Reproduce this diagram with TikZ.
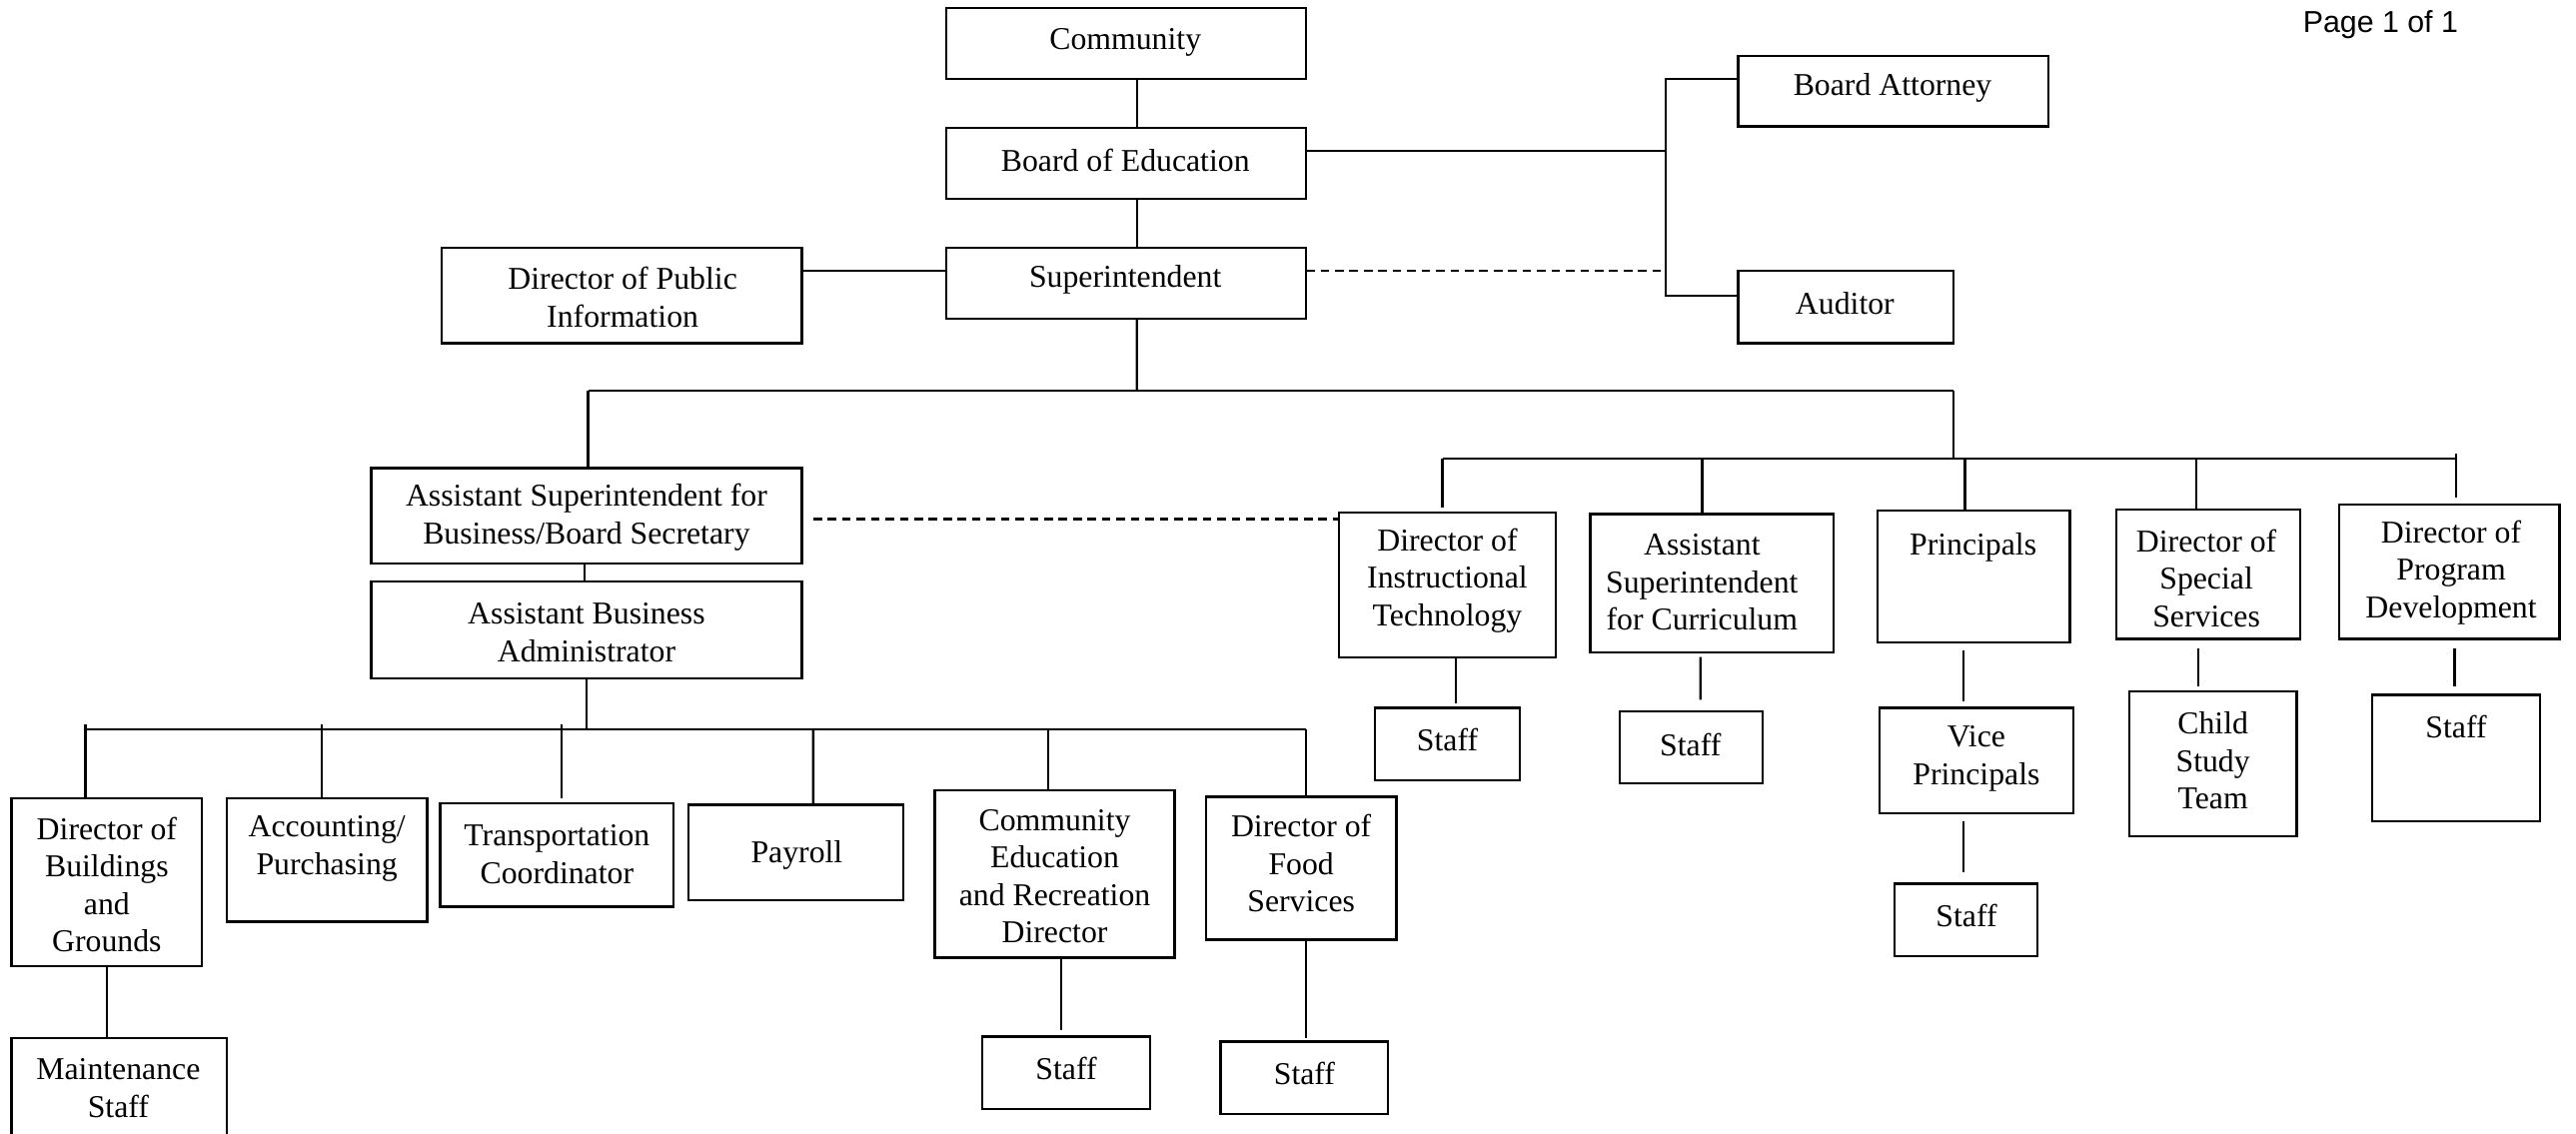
\documentclass[tikz,border=0pt]{standalone}
\usepackage{fontspec}
\setmainfont{Liberation Serif}
\newfontfamily\pagefont{Liberation Sans}
\usetikzlibrary{calc}
\tikzset{
  boxst/.style={draw, line width=0.8pt, inner sep=0pt, outer sep=0pt},
  txt/.style={align=center, inner sep=0pt, font=\fontsize{11}{13}\selectfont},
  ln/.style={line width=0.8pt},
  dln/.style={line width=0.8pt, dash pattern=on 3pt off 2pt}
}
% name, x1, y1, x2, y2, tx, ty, text
\newcommand\bx[8]{%
  \node[boxst, minimum width={(#4-#2)*0.02cm}, minimum height={(#5-#3)*0.02cm}] (#1) at ({(#2+#4)/2},{(#3+#5)/2}) {};
  \node[txt] (#1-t) at (#6,{#7+1.5}) {#8};}
\begin{document}
\begin{tikzpicture}[x=0.02cm,y=-0.02cm]
\useasboundingbox (0,0) rectangle (1568,690);
\node[inner sep=0pt, font=\pagefont\fontsize{10.5}{12}\selectfont] (page) at (1449,15) {Page 1 of 1};
% top
\bx{comm}{576}{5}{795}{48}{685}{24}{Community}
\bx{boe}{576}{78}{795}{121}{685}{96}{Board of Education}
\bx{supt}{576}{151}{795}{194}{685}{169}{Superintendent}
\bx{dpi}{269}{151}{488}{209}{379}{179.5}{Director of Public\\Information}
\bx{att}{1058}{34}{1247}{77}{1152}{52}{Board Attorney}
\bx{aud}{1058}{165}{1189}{209}{1123}{183}{Auditor}
% business side
\bx{asb}{226}{285}{488}{343}{357}{313.5}{Assistant Superintendent for\\Business/Board Secretary}
\bx{aba}{226}{354}{488}{413}{357}{383.5}{Assistant Business\\Administrator}
% right group
\bx{dit}{815}{312}{947}{400}{881}{352}{Director of\\Instructional\\Technology}
\bx{dits}{837}{431}{925}{475}{881}{449}{Staff}
\bx{asc}{968}{313}{1116}{397}{1036}{353}{Assistant\\Superintendent\\for Curriculum}
\bx{ascs}{986}{433}{1073}{477}{1029}{452}{Staff}
\bx{prin}{1143}{311}{1260}{391}{1201}{332}{Principals}
\bx{vp}{1144}{431}{1262}{495}{1203}{460.5}{Vice\\Principals}
\bx{vps}{1153}{538}{1240}{582}{1197}{556}{Staff}
\bx{dss}{1288}{310}{1400}{389}{1343}{350.5}{Director of\\Special\\Services}
\bx{cst}{1296}{421}{1398}{509}{1347}{461.5}{Child\\Study\\Team}
\bx{dpd}{1424}{307}{1558}{389}{1492}{347}{Director of\\Program\\Development}
\bx{dpds}{1444}{423}{1546}{500}{1495}{441}{Staff}
% left group
\bx{dbg}{7}{486}{123}{588}{65}{537}{Director of\\Buildings\\and\\Grounds}
\bx{mnt}{7}{632}{138}{720}{72}{661}{Maintenance\\Staff}
\bx{acc}{138}{486}{260}{561}{199}{515}{Accounting/\\Purchasing}
\bx{trn}{268}{489}{410}{552}{339}{518.5}{Transportation\\Coordinator}
\bx{pay}{419}{490}{550}{548}{485}{519}{Payroll}
\bx{cer}{569}{481}{715}{583}{642}{532}{Community\\Education\\and Recreation\\Director}
\bx{cers}{598}{631}{700}{675}{649}{649}{Staff}
\bx{fds}{734}{485}{850}{572}{792}{524}{Director of\\Food\\Services}
\bx{fdss}{743}{634}{845}{678}{794}{652}{Staff}
% named coordinates
\coordinate (brt) at (1014,48);
\coordinate (brm) at (1014,92);
\coordinate (brd) at (1014,165);
\coordinate (brb) at (1014,180);
\coordinate (b1c) at (692,238);
\coordinate (b1l) at (358,238);
\coordinate (b1r) at (1189,238);
\coordinate (b2m) at (1189,279);
\coordinate (b2l) at (878,279);
\coordinate (b2r) at (1495,279);
\coordinate (b3c) at (357,444);
\coordinate (b3l) at (52,444);
\coordinate (b3r) at (795,444);
% top connectors
\draw[ln] ($(comm.south)+(6.5,0)$) -- ($(boe.north)+(6.5,0)$);
\draw[ln] ($(boe.south)+(6.5,0)$) -- ($(supt.north)+(6.5,0)$);
\draw[ln] ($(dpi.east)+(0,-15)$) -- ($(supt.west)+(0,-7.5)$);
\draw[ln] ($(boe.east)+(0,-7.5)$) -- (brm);
\draw[ln] ($(att.west)+(0,-7.5)$) -- (brt) -- (brb) -- ($(aud.west)+(0,-7)$);
\draw[dln] ($(supt.east)+(0,-7.5)$) -- (brd);
% superintendent bus
\draw[ln] ($(supt.south)+(6.5,0)$) -- (b1c);
\draw[ln] (b1l) -- (b1r);
\draw[ln] (b1l) -- ($(asb.north)+(1,0)$);
\draw[ln] (b1r) -- (b2m);
% right bus
\draw[ln] (b2l) -- (b2r);
\draw[ln] (b2r) -- ++(0,-3);
\draw[ln] (b2l) -- ($(dit.north)+(-3,-3)$);
\draw[ln] ($(b2l)+(158,0)$) -- ($(asc.north)+(-6,0)$);
\draw[ln] ($(b2l)+(318,0)$) -- ($(prin.north)+(-5.5,0)$);
\draw[ln] ($(b2l)+(459,0)$) -- ($(dss.north)+(-7,0)$);
\draw[ln] (b2r) -- ($(dpd.north)+(4,-4)$);
% sub connectors right
\draw[ln] ($(dit.south)+(5,1)$) -- ($(dits.north)+(5,-3)$);
\draw[ln] ($(asc.south)+(-7,3)$) -- ($(ascs.north)+(5.5,-7)$);
\draw[ln] ($(prin.south)+(-6.5,5)$) -- ($(vp.north)+(-8,-4)$);
\draw[ln] ($(vp.south)+(-8,5)$) -- ($(vps.north)+(-1.5,-7)$);
\draw[ln] ($(dss.south)+(-6,6)$) -- ($(cst.north)+(-9,-3)$);
\draw[ln] ($(dpd.south)+(3,6)$) -- ($(dpds.north)+(-1,-5)$);
% business
\draw[ln] ($(asb.south)+(-1,0)$) -- ($(aba.north)+(-1,0)$);
\draw[dln] ($(asb.east)+(7,2)$) -- ($(dit.west)+(0,-40)$);
\draw[ln] (aba.south) -- (b3c);
\draw[ln] (b3l) -- (b3r);
\draw[ln] (b3l) -- ++(0,-3);
\draw[ln] (b3l) -- ($(dbg.north)+(-13,0)$);
\draw[ln] ($(b3l)+(144,-3)$) -- ($(acc.north)+(-3,0)$);
\draw[ln] ($(b3l)+(290,-3)$) -- ($(trn.north)+(3,-3)$);
\draw[ln] ($(b3l)+(443,0)$) -- ($(pay.north)+(10.5,-1)$);
\draw[ln] ($(b3l)+(586,0)$) -- ($(cer.north)+(-4,0)$);
\draw[ln] (b3r) -- ($(fds.north)+(3,0)$);
\draw[ln] (dbg.south) -- ($(mnt.north)+(-7.5,0)$);
\draw[ln] ($(cer.south)+(4,1)$) -- ($(cers.north)+(-3,-4)$);
\draw[ln] ($(fds.south)+(3,1)$) -- ($(fdss.north)+(1,-2)$);
\end{tikzpicture}
\end{document}
